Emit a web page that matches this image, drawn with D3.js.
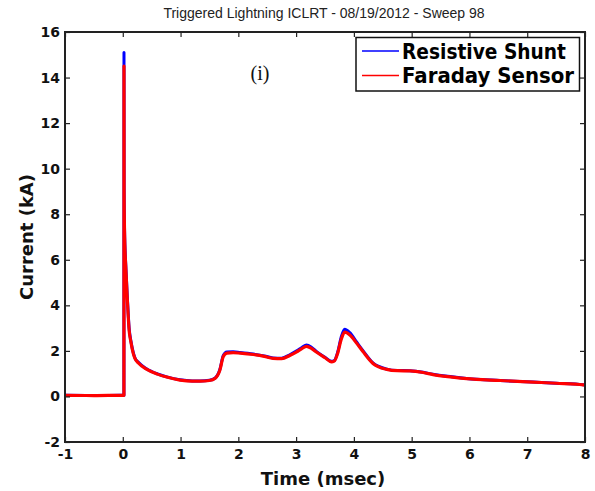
<!DOCTYPE html>
<html>
<head>
<meta charset="utf-8">
<script src="https://cdn.jsdelivr.net/npm/d3@7"></script>
<style>
  body { margin: 0; background: #fff; }
  svg { display: block; }
</style>
</head>
<body>
<div id="chart"></div>
<script>
// time in msec
const time = [-1, -0.5, 0, 0.02, 0.021, 0.023, 0.03, 0.055, 0.08, 0.11, 0.14, 0.18, 0.21, 0.27,
  0.41, 0.6, 0.76, 0.99, 1.2, 1.34, 1.5, 1.6, 1.68, 1.74, 1.8, 1.91, 2.03, 2.26, 2.45, 2.6,
  2.75, 2.89, 3.01, 3.1, 3.18, 3.27, 3.35, 3.5, 3.61, 3.66, 3.72, 3.78, 3.84, 3.93, 4.05,
  4.16, 4.33, 4.57, 4.75, 4.97, 5.2, 5.37, 5.7, 5.95, 6.53, 7.1, 7.5, 7.97, 8];

// current in kA
const shunt = [0.05, 0.04, 0.05, 0.05, 15.1, 9.2, 7.4, 5.6, 4.3, 3.0, 2.45, 1.95, 1.7, 1.5,
  1.22, 0.99, 0.86, 0.73, 0.68, 0.68, 0.71, 0.81, 1.18, 1.8, 1.95, 1.96, 1.93, 1.86, 1.78, 1.69,
  1.68, 1.83, 2.0, 2.15, 2.26, 2.15, 1.98, 1.72, 1.54, 1.57, 1.95, 2.6, 2.95, 2.8, 2.38,
  2.0, 1.47, 1.2, 1.14, 1.13, 1.06, 0.97, 0.86, 0.79, 0.7, 0.63, 0.58, 0.51, 0.5];

const faraday = [0.05, 0.04, 0.05, 0.05, 14.5, 9.0, 7.3, 5.5, 4.2, 2.9, 2.4, 1.9, 1.67, 1.47,
  1.2, 0.98, 0.85, 0.72, 0.67, 0.67, 0.7, 0.8, 1.15, 1.75, 1.9, 1.92, 1.9, 1.84, 1.76, 1.67,
  1.66, 1.8, 1.96, 2.1, 2.2, 2.1, 1.95, 1.7, 1.52, 1.55, 1.9, 2.5, 2.82, 2.7, 2.33,
  1.96, 1.45, 1.19, 1.13, 1.12, 1.05, 0.96, 0.85, 0.78, 0.7, 0.63, 0.58, 0.51, 0.5];

const xTicks = [-1, 0, 1, 2, 3, 4, 5, 6, 7, 8];
const yTicks = [-2, 0, 2, 4, 6, 8, 10, 12, 14, 16];
const seriesNames = ["Resistive Shunt", "Faraday Sensor"];
const seriesColors = ["#0000ff", "#ff0000"];

const width = 595, height = 491;
const mLeft = 65, mRight = 585, mTop = 32, mBottom = 442;
const boldFont = "'DejaVu Sans', sans-serif";
const tickFmt = d => String(d); // plain hyphen for negatives

const svg = d3.select("#chart").append("svg")
  .attr("width", width)
  .attr("height", height);

const x = d3.scaleLinear().domain([-1, 8]).range([mLeft, mRight]);
const y = d3.scaleLinear().domain([-2, 16]).range([mBottom, mTop]);

svg.append("defs").append("clipPath").attr("id", "plot")
  .append("rect")
  .attr("x", mLeft).attr("y", mTop)
  .attr("width", mRight - mLeft).attr("height", mBottom - mTop);

// data lines
const line = d3.line()
  .x((d, i) => x(time[i]))
  .y(d => y(d))
  .curve(d3.curveMonotoneX);

[shunt, faraday].forEach((s, k) => {
  svg.append("path")
    .attr("clip-path", "url(#plot)")
    .attr("d", line(s))
    .attr("fill", "none")
    .attr("stroke", seriesColors[k])
    .attr("stroke-width", k === 0 ? 3 : 3.2)
    .attr("stroke-linejoin", "round");
});

// axes with inward ticks
function styleAxis(g) {
  g.select(".domain").remove();
  g.selectAll(".tick line").attr("stroke", "#222").attr("stroke-width", 1.2);
  g.selectAll(".tick text")
    .attr("fill", "#111")
    .style("font-family", boldFont)
    .style("font-weight", "bold")
    .style("font-size", "14px");
}

svg.append("g")
  .attr("transform", `translate(0,${mBottom})`)
  .call(d3.axisBottom(x).tickValues(xTicks).tickSize(-5).tickPadding(7).tickFormat(tickFmt))
  .call(styleAxis);

svg.append("g")
  .attr("transform", `translate(0,${mTop})`)
  .call(d3.axisTop(x).tickValues(xTicks).tickSize(-5).tickFormat(""))
  .call(styleAxis);

svg.append("g")
  .attr("transform", `translate(${mLeft},0)`)
  .call(d3.axisLeft(y).tickValues(yTicks).tickSize(-5).tickPadding(5).tickFormat(tickFmt))
  .call(styleAxis);

svg.append("g")
  .attr("transform", `translate(${mRight},0)`)
  .call(d3.axisRight(y).tickValues(yTicks).tickSize(-5).tickFormat(""))
  .call(styleAxis);

svg.append("rect")
  .attr("x", mLeft).attr("y", mTop)
  .attr("width", mRight - mLeft).attr("height", mBottom - mTop)
  .attr("fill", "none")
  .attr("stroke", "#222")
  .attr("stroke-width", 2);

// title and labels
svg.append("text")
  .attr("x", 324)
  .attr("y", 18)
  .attr("text-anchor", "middle")
  .style("font-family", "'Liberation Sans', Arial, sans-serif")
  .style("font-size", "14px")
  .attr("fill", "#222")
  .text("Triggered Lightning ICLRT - 08/19/2012 - Sweep 98");

svg.append("text")
  .attr("x", 260)
  .attr("y", 80)
  .attr("text-anchor", "middle")
  .style("font-family", "'Liberation Serif', 'Times New Roman', serif")
  .style("font-size", "20px")
  .attr("fill", "#111")
  .text("(i)");

svg.append("text")
  .attr("x", 323)
  .attr("y", 485)
  .attr("text-anchor", "middle")
  .style("font-family", boldFont)
  .style("font-weight", "bold")
  .style("font-size", "18px")
  .attr("fill", "#111")
  .text("Time (msec)");

svg.append("text")
  .attr("transform", `translate(33,${(mTop + mBottom) / 2}) rotate(-90)`)
  .attr("text-anchor", "middle")
  .style("font-family", boldFont)
  .style("font-weight", "bold")
  .style("font-size", "18px")
  .attr("fill", "#111")
  .text("Current (kA)");

// legend
const legend = svg.append("g");
legend.append("rect")
  .attr("x", 356).attr("y", 37.5)
  .attr("width", 223.5).attr("height", 53.5)
  .attr("fill", "#fff")
  .attr("stroke", "#111")
  .attr("stroke-width", 1.5);

const textWidths = [164, 172];
seriesNames.forEach((name, i) => {
  const cy = 51 + i * 24.5;
  legend.append("line")
    .attr("x1", 362).attr("x2", 399)
    .attr("y1", cy).attr("y2", cy)
    .attr("stroke", seriesColors[i])
    .attr("stroke-width", 1.5);
  legend.append("text")
    .attr("x", 402)
    .attr("y", cy + 7.5)
    .style("font-family", boldFont)
    .style("font-weight", "bold")
    .style("font-size", "21px")
    .attr("textLength", textWidths[i])
    .attr("lengthAdjust", "spacingAndGlyphs")
    .attr("fill", "#000")
    .text(name);
});
</script>
</body>
</html>
